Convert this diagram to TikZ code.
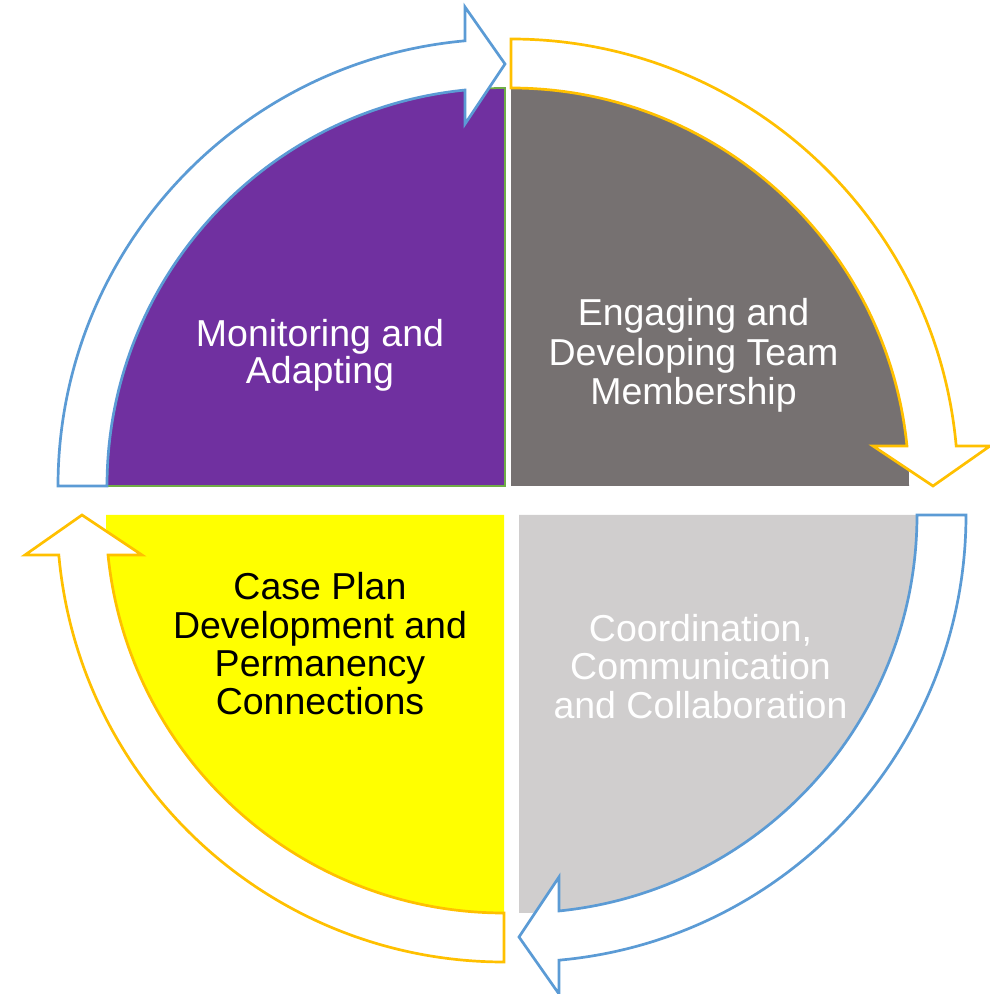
\documentclass[tikz,border=0pt]{standalone}
\usepackage{fontspec}
\setmainfont{Liberation Sans}
\definecolor{qpurple}{HTML}{7030A0}
\definecolor{qgreen}{HTML}{70AD47}
\definecolor{qdgray}{HTML}{767171}
\definecolor{qlgray}{HTML}{D0CECE}
\definecolor{qyellow}{HTML}{FFFF00}
\definecolor{ablue}{HTML}{5B9BD5}
\definecolor{agold}{HTML}{FFC000}
\begin{document}
\begin{tikzpicture}[x=1pt,y=1pt,
  lbl/.style={anchor=base,inner sep=0pt,font=\fontsize{37.5}{38.5}\selectfont},
  arrowshape/.style={fill=white,line width=2.7pt,line join=miter},
  cyclearrow/.pic={
    \draw[arrowshape,pic actions] (180:447) arc[start angle=180,end angle=95.13,radius=447]
      -- (-40,479) -- (0,422) -- (-40,362) -- (95.77:398)
      arc[start angle=95.77,end angle=180,radius=398] -- cycle;
  }]
\useasboundingbox (0,0) rectangle (989,994);
% quadrants
\filldraw[fill=qpurple,draw=qgreen,line width=1.8pt] (505,508) -- ++(-398,0) arc[start angle=180,end angle=90,radius=398] -- cycle;
\fill[qdgray] (511,508) -- ++(0,398) arc[start angle=90,end angle=0,radius=398] -- cycle;
\fill[qlgray] (519,479) -- ++(398,0) arc[start angle=0,end angle=-90,radius=398] -- cycle;
\fill[qyellow] (504,479) -- ++(0,-398) arc[start angle=270,end angle=180,radius=398] -- cycle;
% arrows
\pic[draw=ablue] at (505,508) {cyclearrow};
\pic[draw=agold,rotate=-90] at (511,508) {cyclearrow};
\pic[draw=ablue,rotate=180] at (519,479) {cyclearrow};
\pic[draw=agold,rotate=90] at (504,479) {cyclearrow};
% labels
\node[lbl,text=white] (tl1) at (320,647.3) {Monitoring and};
\node[lbl,text=white] (tl2) at (320,610.7) {Adapting};
\node[lbl,text=white] (tr1) at (693.5,668) {Engaging and};
\node[lbl,text=white] (tr2) at (693.5,628) {Developing Team};
\node[lbl,text=white] (tr3) at (693.5,589) {Membership};
\node[lbl,text=white] (br1) at (700.5,352.3) {Coordination,};
\node[lbl,text=white] (br2) at (700.5,314) {Communication};
\node[lbl,text=white] (br3) at (700.5,275.7) {and Collaboration};
\node[lbl,text=black] (bl1) at (320,394.7) {Case Plan};
\node[lbl,text=black] (bl2) at (320,355.7) {Development and};
\node[lbl,text=black] (bl3) at (320,317.3) {Permanency};
\node[lbl,text=black] (bl4) at (320,279) {Connections};
\end{tikzpicture}
\end{document}
